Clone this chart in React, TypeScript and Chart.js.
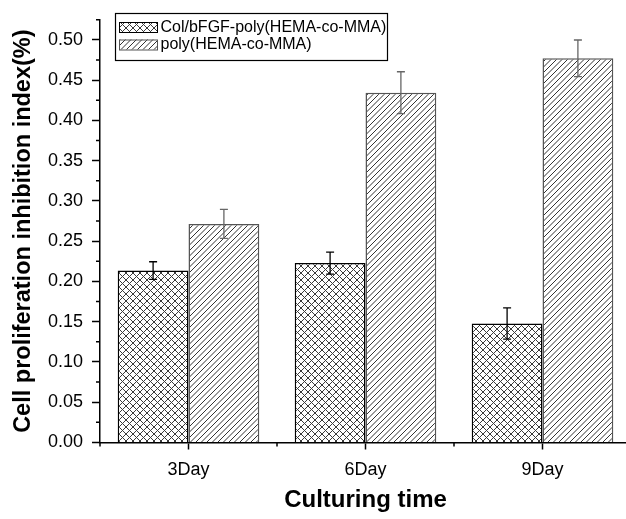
import React, { useEffect, useRef } from "react";
import { Chart, registerables } from "chart.js";

Chart.register(...registerables);

const categories = ["3Day", "6Day", "9Day"];
const seriesNames = ["Col/bFGF-poly(HEMA-co-MMA)", "poly(HEMA-co-MMA)"];
const colValues = [0.2135, 0.2228, 0.1478];
const colErrors = [0.011, 0.0136, 0.0195];
const polyValues = [0.2715, 0.4345, 0.4772];
const polyErrors = [0.018, 0.026, 0.0227];
const yMin = 0;
const yMax = 0.525;
const yStep = 0.05;
const yMinorTickValues = [0.025, 0.075, 0.125, 0.175, 0.225, 0.275, 0.325, 0.375, 0.425, 0.475, 0.525];
const xTitle = "Culturing time";
const yTitle = "Cell proliferation inhibition index(%)";

const FAMILY = "'Liberation Sans', Arial, Helvetica, sans-serif";

function makeCross(): CanvasPattern {
  const s = 7;
  const c = document.createElement("canvas");
  c.width = s;
  c.height = s;
  const g = c.getContext("2d")!;
  g.fillStyle = "#fff";
  g.fillRect(0, 0, s, s);
  g.strokeStyle = "#3a3a3a";
  g.lineWidth = 1;
  for (const o of [-s, 0, s]) {
    g.beginPath();
    g.moveTo(o, 0);
    g.lineTo(o + s, s);
    g.stroke();
    g.beginPath();
    g.moveTo(o, s);
    g.lineTo(o + s, 0);
    g.stroke();
  }
  return g.createPattern(c, "repeat")!;
}

function makeDiag(): CanvasPattern {
  const s = 11;
  const c = document.createElement("canvas");
  c.width = s;
  c.height = s;
  const g = c.getContext("2d")!;
  g.fillStyle = "#fff";
  g.fillRect(0, 0, s, s);
  g.strokeStyle = "#333";
  g.lineWidth = 1;
  for (const o of [-11, -5.5, 0, 5.5, 11]) {
    g.beginPath();
    g.moveTo(o, s);
    g.lineTo(o + s, 0);
    g.stroke();
  }
  return g.createPattern(c, "repeat")!;
}

const errorSets = [colErrors, polyErrors];
const errorColors = ["#000", "#666"];

const errorBarPlugin = {
  id: "errorBars",
  afterDatasetsDraw(chart: any) {
    const ctx = chart.ctx;
    const y = chart.scales.y;
    chart.data.datasets.forEach((ds: any, di: number) => {
      const meta = chart.getDatasetMeta(di);
      meta.data.forEach((bar: any, i: number) => {
        const v = ds.data[i] as number;
        const e = errorSets[di][i];
        const x = bar.x;
        const yt = y.getPixelForValue(v + e);
        const yb = y.getPixelForValue(v - e);
        ctx.save();
        ctx.strokeStyle = errorColors[di];
        ctx.lineWidth = 1.3;
        ctx.beginPath();
        ctx.moveTo(x, yt);
        ctx.lineTo(x, yb);
        ctx.moveTo(x - 4, yt);
        ctx.lineTo(x + 4, yt);
        ctx.moveTo(x - 4, yb);
        ctx.lineTo(x + 4, yb);
        ctx.stroke();
        ctx.restore();
      });
    });
  },
};

const minorTickPlugin = {
  id: "minorTicks",
  afterDraw(chart: any) {
    const { ctx, chartArea: a, scales } = chart;
    const x = scales.x;
    const y = scales.y;
    ctx.save();
    ctx.strokeStyle = "#000";
    ctx.lineWidth = 1.5;
    ctx.beginPath();
    for (const v of yMinorTickValues) {
      const py = y.getPixelForValue(v);
      ctx.moveTo(a.left - 4, py);
      ctx.lineTo(a.left, py);
    }
    for (let i = 0; i <= categories.length; i++) {
      const px = x.getPixelForValue(i - 0.5);
      ctx.moveTo(px, a.bottom);
      ctx.lineTo(px, a.bottom + 4);
    }
    ctx.stroke();
    ctx.restore();
  },
};

const legendPlugin = {
  id: "boxLegend",
  afterDraw(chart: any) {
    const ctx = chart.ctx;
    const a = chart.chartArea;
    const bx = a.left + 15;
    const by = 13;
    const bw = 272;
    const bh = 47;
    ctx.save();
    ctx.fillStyle = "#fff";
    ctx.fillRect(bx, by, bw, bh);
    ctx.strokeStyle = "#000";
    ctx.lineWidth = 1.2;
    ctx.strokeRect(bx + 0.5, by + 0.5, bw, bh);
    ctx.font = `16px ${FAMILY}`;
    ctx.textBaseline = "alphabetic";
    ctx.textAlign = "left";
    chart.data.datasets.forEach((ds: any, i: number) => {
      const sy = 22 + i * 17.5;
      ctx.fillStyle = ds.backgroundColor;
      ctx.fillRect(bx + 4, sy, 38, 10);
      ctx.strokeStyle = ds.borderColor;
      ctx.lineWidth = 1;
      ctx.strokeRect(bx + 4.5, sy + 0.5, 38, 10);
      ctx.fillStyle = "#000";
      ctx.fillText(ds.label, bx + 45.5, 31.7 + i * 17.6);
    });
    ctx.restore();
  },
};

export default function App() {
  const ref = useRef<HTMLCanvasElement>(null);
  useEffect(() => {
    if (!ref.current) return;
    Chart.defaults.font.family = FAMILY;
    const cross = makeCross();
    const diag = makeDiag();
    const chart = new Chart(ref.current, {
      type: "bar",
      data: {
        labels: categories,
        datasets: [
          {
            label: seriesNames[0],
            data: colValues,
            backgroundColor: cross as any,
            borderColor: "#000",
            borderWidth: 1.5,
            barPercentage: 1.0,
            categoryPercentage: 0.8,
          },
          {
            label: seriesNames[1],
            data: polyValues,
            backgroundColor: diag as any,
            borderColor: "#555",
            borderWidth: 1.5,
            barPercentage: 1.0,
            categoryPercentage: 0.8,
          },
        ],
      },
      options: {
        responsive: false,
        animation: false,
        layout: { padding: { left: 0, right: 9, top: 10.5, bottom: 0 }, autoPadding: false } as any,
        plugins: {
          legend: { display: false },
          tooltip: { enabled: false },
        },
        scales: {
          x: {
            type: "category",
            offset: true,
            grid: {
              display: true,
              drawOnChartArea: false,
              drawTicks: true,
              tickLength: 7,
              offset: false,
              tickColor: "#000",
              tickWidth: 1.5,
            },
            border: { display: true, color: "#000", width: 1.5 },
            ticks: {
              color: "#000",
              font: { family: FAMILY, size: 18 },
              padding: 9.5,
              maxRotation: 0,
              autoSkip: false,
            },
            title: {
              display: true,
              text: xTitle,
              color: "#000",
              font: { family: FAMILY, size: 24, weight: "bold", lineHeight: 1.2 },
              padding: { top: 0, bottom: 4 },
            },
            afterFit: (s: any) => {
              s.height = 76.5;
            },
          },
          y: {
            min: yMin,
            max: yMax,
            grid: {
              display: true,
              drawOnChartArea: false,
              drawTicks: true,
              tickLength: 8,
              tickColor: "#000",
              tickWidth: 1.5,
            },
            border: { display: true, color: "#000", width: 1.5 },
            ticks: {
              stepSize: yStep,
              includeBounds: false,
              color: "#000",
              font: { family: FAMILY, size: 18 },
              padding: 9,
              callback: (v: any) => Number(v).toFixed(2),
            },
            title: {
              display: true,
              text: yTitle,
              color: "#000",
              font: { family: FAMILY, size: 23.5, weight: "bold", lineHeight: 1.2 },
              padding: { top: 9, bottom: 0 },
            },
            afterFit: (s: any) => {
              s.width = 100;
            },
          },
        },
      } as any,
      plugins: [errorBarPlugin, minorTickPlugin, legendPlugin],
    });
    return () => chart.destroy();
  }, []);
  return (
    <div
      style={{
        position: "fixed",
        left: 0,
        top: 0,
        width: 626,
        height: 519,
        overflow: "hidden",
        background: "#fff",
      }}
    >
      <canvas ref={ref} width={640} height={519} style={{ display: "block", width: 640, height: 519 }} />
    </div>
  );
}
